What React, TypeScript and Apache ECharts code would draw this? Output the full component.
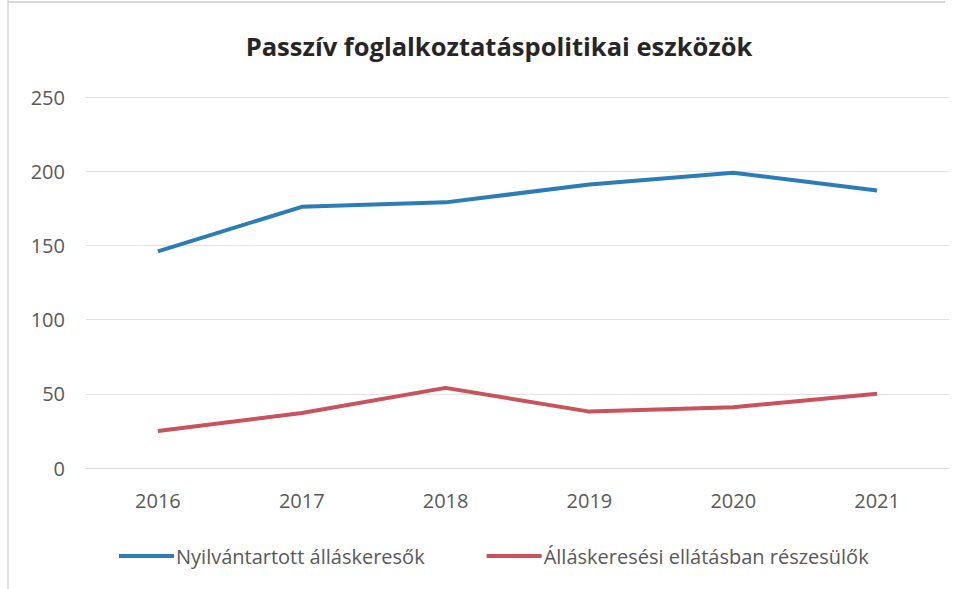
import React, { useEffect, useRef } from "react";
import * as echarts from "echarts";

const years = ["2016", "2017", "2018", "2019", "2020", "2021"];
const registered = [146, 176, 179, 191, 199, 187];
const benefitRecipients = [25, 37, 54, 38, 41, 50];
const seriesNames = ["Nyilvántartott álláskeresők", "Álláskeresési ellátásban részesülők"];
const titleText = "Passzív foglalkoztatáspolitikai eszközök";

export default function App() {
  const ref = useRef<HTMLDivElement>(null);
  useEffect(() => {
    if (!ref.current) return;
    const chart = echarts.init(ref.current, null, { renderer: "svg" });
    const font = "'Open Sans', sans-serif";
    chart.setOption({
      animation: false,
      backgroundColor: "#ffffff",
      title: {
        text: titleText,
        left: 494,
        textAlign: "center",
        top: 28,
        textStyle: { fontFamily: font, fontWeight: "bold", fontSize: 25.5, color: "#262626" },
      },
      grid: { left: 86, right: 13, top: 97, bottom: 121, containLabel: false },
      legend: {
        left: 114,
        top: 541,
        itemWidth: 55,
        itemHeight: 4,
        itemGap: 62,
        icon: "rect",
        textStyle: { fontFamily: font, fontSize: 20, color: "#595959", padding: [0, 0, 0, -3] },
        data: seriesNames,
      },
      xAxis: {
        type: "category",
        data: years,
        boundaryGap: true,
        axisLine: { show: true, lineStyle: { color: "#d9d9d9", width: 1 } },
        axisTick: { show: false },
        axisLabel: { fontFamily: font, fontSize: 20, color: "#595959", margin: 22 },
      },
      yAxis: {
        type: "value",
        min: 0,
        max: 250,
        interval: 50,
        axisLine: { show: false },
        axisTick: { show: false },
        splitLine: { lineStyle: { color: "#e3e3e3", width: 1 } },
        axisLabel: { fontFamily: font, fontSize: 20, color: "#595959", margin: 21 },
      },
      series: [
        {
          name: seriesNames[0],
          type: "line",
          data: registered,
          showSymbol: false,
          symbol: "none",
          lineStyle: { width: 4, color: "#2b7db8" },
          itemStyle: { color: "#2b7db8" },
        },
        {
          name: seriesNames[1],
          type: "line",
          data: benefitRecipients,
          showSymbol: false,
          symbol: "none",
          lineStyle: { width: 4, color: "#c9525d" },
          itemStyle: { color: "#c9525d" },
        },
      ],
      graphic: [
        { type: "line", shape: { x1: 8, y1: 0, x2: 8, y2: 589 }, style: { stroke: "#e0e0e0", lineWidth: 2 } },
        { type: "line", shape: { x1: 8, y1: 2, x2: 945, y2: 2 }, style: { stroke: "#d8d8d8", lineWidth: 2 } },
      ],
    });
    return () => chart.dispose();
  }, []);
  return <div ref={ref} style={{ position: "fixed", left: 0, top: 0, width: 962, height: 589 }} />;
}
